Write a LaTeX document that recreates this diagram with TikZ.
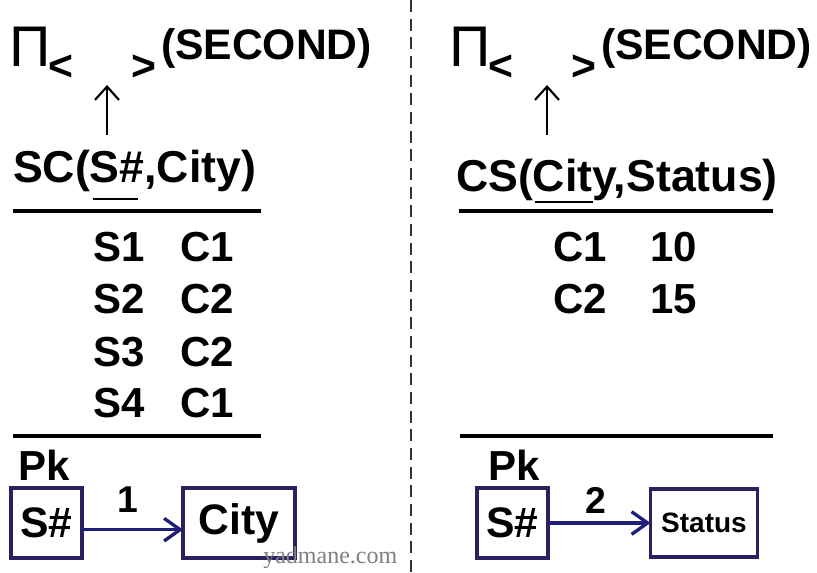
\documentclass[tikz,border=0pt]{standalone}
\usepackage{fontspec}
\setmainfont{Liberation Sans}
\newfontfamily\wmfont{Liberation Serif}
\usetikzlibrary{arrows.meta}
\definecolor{boxcol}{HTML}{2E1F5E}
\definecolor{arrcol}{HTML}{1F1F7A}
\begin{document}
\begin{tikzpicture}[x=0.75pt,y=-0.75pt,
  txt/.style={inner sep=0pt, outer sep=0pt, anchor=base west, font=\bfseries\fontsize{32}{36}\selectfont},
  head/.style={inner sep=0pt, outer sep=0pt, anchor=base west, font=\bfseries\fontsize{33.5}{36}\selectfont},
  row/.style={inner sep=0pt, outer sep=0pt, anchor=base west, font=\bfseries\fontsize{31.5}{36}\selectfont},
  pisym/.style={inner sep=0pt, outer sep=0pt, font=\fontsize{43}{48}\selectfont},
  angle/.style={inner sep=0pt, outer sep=0pt, font=\bfseries\fontsize{32}{36}\selectfont},
  keybox/.style={draw=boxcol, line width=2.3pt, inner sep=0pt, outer sep=0pt, font=\bfseries\fontsize{32}{36}\selectfont},
  fdarrow/.style={draw=arrcol, line width=2.5pt, -{Straight Barb[length=12pt,width=17pt,line width=2.5pt]}},
  uparrow/.style={draw=black, line width=1.6pt, -{Straight Barb[length=10pt,width=18pt,line width=1.6pt]}},
  rule/.style={draw=black, line width=2.8pt},
  uline/.style={draw=black, line width=2.2pt},
  lbl/.style={inner sep=0pt, outer sep=0pt, font=\bfseries\fontsize{28}{32}\selectfont}
]
\useasboundingbox (0,0) rectangle (817,573);
\fill[white] (0,0) rectangle (817,573);

% divider
\coordinate (dtop) at (411,0);
\coordinate (dbot) at (411,573);
\draw[draw=black!80, line width=1.5pt, dash pattern=on 9pt off 5pt] (dtop) -- (dbot);

% ---------- left ----------
\node[pisym] (piL) at (30,47) {Π};
\node[angle] (ltL) at (61,68) {<};
\node[angle] (gtL) at (144,68) {>};
\node[txt] (secL) at (161,60) {(SECOND)};
\coordinate (upLb) at (107,135);
\coordinate (upLt) at (107,85);
\draw[uparrow] (upLb) -- (upLt);
\node[head] (relL) at (13,183) {SC(S\#,City)};
\coordinate (ulL1) at (93,199);
\coordinate (ulL2) at (138,199);
\draw[uline] (ulL1) -- (ulL2);
\coordinate (r1a) at (13,211);
\coordinate (r1b) at (261,211);
\draw[rule] (r1a) -- (r1b);
\node[row] (s1) at (93,262) {S1};
\node[row] (c1) at (180,262) {C1};
\node[row] (s2) at (93,314) {S2};
\node[row] (c2) at (180,314) {C2};
\node[row] (s3) at (93,367) {S3};
\node[row] (c3) at (180,367) {C2};
\node[row] (s4) at (93,417) {S4};
\node[row] (c4) at (180,417) {C1};
\coordinate (r2a) at (13,436);
\coordinate (r2b) at (261,436);
\draw[rule] (r2a) -- (r2b);
\node[row] (pkL) at (18,480) {Pk};
\node[keybox, minimum width=71*0.75pt, minimum height=70*0.75pt] (kL) at (46.5,523) {S\#};
\node[keybox, minimum width=112*0.75pt, minimum height=70*0.75pt] (cityL) at (239,523) {City};
\draw[fdarrow] ([yshift=-5pt]kL.east) -- ([yshift=-5pt]cityL.west);
\node[lbl] (oneL) at (128,500) {1};

% ---------- right ----------
\node[pisym] (piR) at (470,47) {Π};
\node[angle] (ltR) at (501,68) {<};
\node[angle] (gtR) at (584,68) {>};
\node[txt] (secR) at (601,60) {(SECOND)};
\coordinate (upRb) at (547,135);
\coordinate (upRt) at (547,85);
\draw[uparrow] (upRb) -- (upRt);
\node[head] (relR) at (456,192) {CS(City,Status)};
\coordinate (ulR1) at (535,202);
\coordinate (ulR2) at (593,202);
\draw[uline] (ulR1) -- (ulR2);
\coordinate (r3a) at (459,211);
\coordinate (r3b) at (773,211);
\draw[rule] (r3a) -- (r3b);
\node[row] (cc1) at (553,262) {C1};
\node[row] (v1) at (650,262) {10};
\node[row] (cc2) at (553,314) {C2};
\node[row] (v2) at (650,314) {15};
\coordinate (r4a) at (460,436);
\coordinate (r4b) at (773,436);
\draw[rule] (r4a) -- (r4b);
\node[row] (pkR) at (488,480) {Pk};
\node[keybox, minimum width=71*0.75pt, minimum height=70*0.75pt] (kR) at (512.5,523) {S\#};
\node[keybox, minimum width=107*0.75pt, minimum height=68*0.75pt, font=\bfseries\fontsize{21}{24}\selectfont] (statR) at (704,523) {Status};
\draw[fdarrow] (kR.east) -- (statR.west);
\node[lbl] (twoR) at (596,500) {2};

% watermark
\node[inner sep=0pt, anchor=base west, text=black!50, font=\wmfont\fontsize{18}{20}\selectfont] (wm) at (263,563) {yadmane.com};
\end{tikzpicture}
\end{document}
